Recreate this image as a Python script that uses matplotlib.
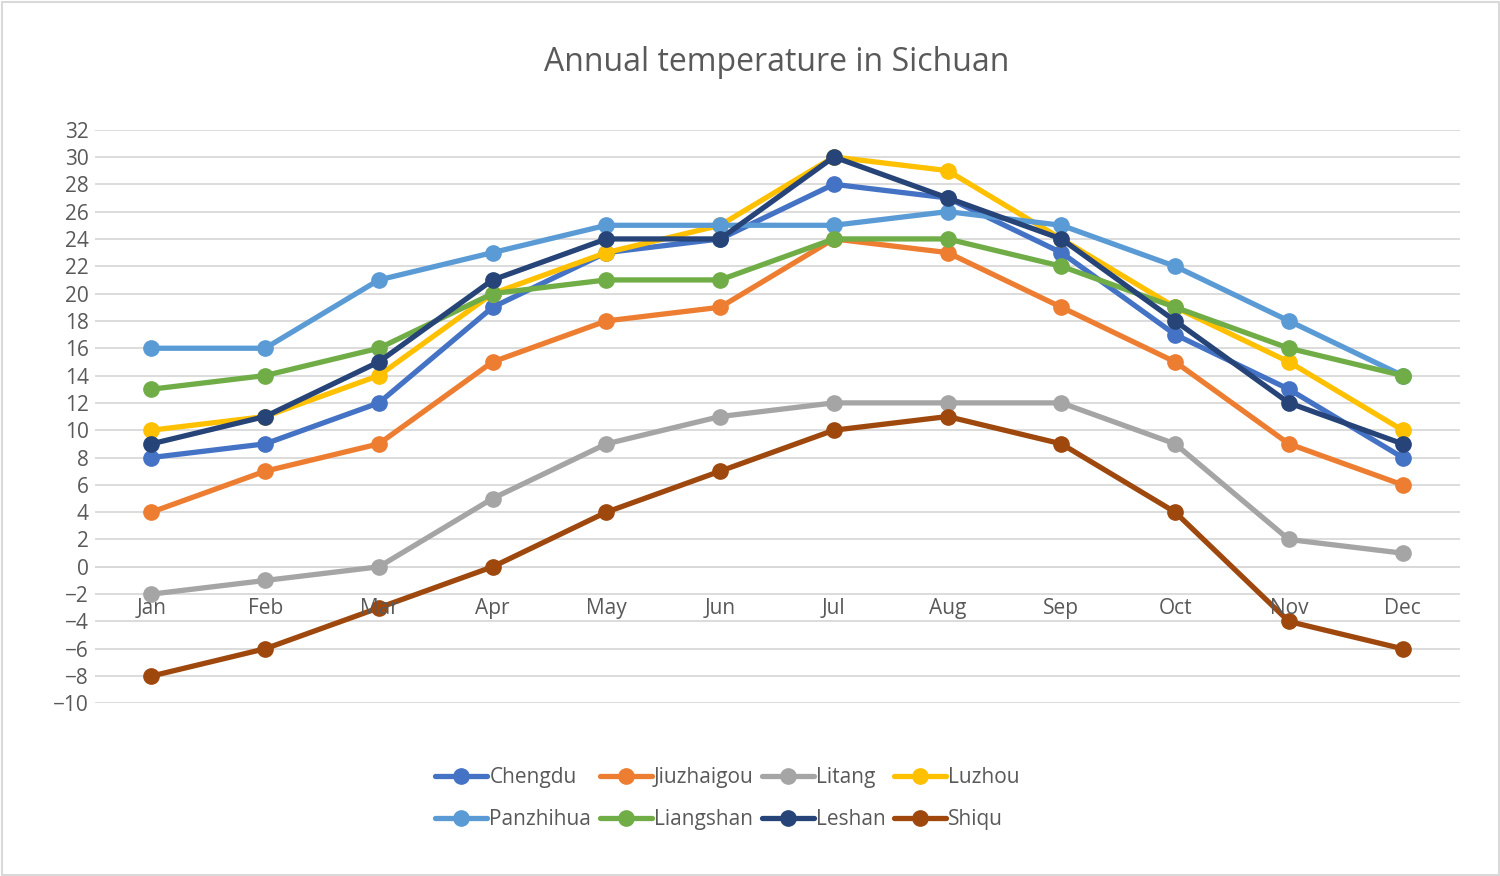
import matplotlib.pyplot as plt
from matplotlib.patches import Rectangle

months = ["Jan", "Feb", "Mar", "Apr", "May", "Jun",
          "Jul", "Aug", "Sep", "Oct", "Nov", "Dec"]

chengdu = [8, 9, 12, 19, 23, 24, 28, 27, 23, 17, 13, 8]
jiuzhaigou = [4, 7, 9, 15, 18, 19, 24, 23, 19, 15, 9, 6]
litang = [-2, -1, 0, 5, 9, 11, 12, 12, 12, 9, 2, 1]
luzhou = [10, 11, 14, 20, 23, 25, 30, 29, 24, 19, 15, 10]
panzhihua = [16, 16, 21, 23, 25, 25, 25, 26, 25, 22, 18, 14]
liangshan = [13, 14, 16, 20, 21, 21, 24, 24, 22, 19, 16, 14]
leshan = [9, 11, 15, 21, 24, 24, 30, 27, 24, 18, 12, 9]
shiqu = [-8, -6, -3, 0, 4, 7, 10, 11, 9, 4, -4, -6]

series = [
    ("Chengdu", chengdu, "#4472C4"),
    ("Jiuzhaigou", jiuzhaigou, "#ED7D31"),
    ("Litang", litang, "#A5A5A5"),
    ("Luzhou", luzhou, "#FFC000"),
    ("Panzhihua", panzhihua, "#5B9BD5"),
    ("Liangshan", liangshan, "#70AD47"),
    ("Leshan", leshan, "#264478"),
    ("Shiqu", shiqu, "#9E480E"),
]

plt.rcParams['font.family'] = ['Open Sans', 'DejaVu Sans']

fig = plt.figure(figsize=(15, 8.76), dpi=100)
ax = fig.add_axes([0.063, 0.197, 0.91, 0.655])

x = list(range(len(months)))
handles = {}
for name, vals, color in series:
    line, = ax.plot(x, vals, color=color, lw=3.8, marker='o', ms=11,
                    solid_capstyle='round', label=name)
    handles[name] = line

ax.set_xlim(-0.5, 11.5)
ax.set_ylim(-10, 32)
ax.set_yticks(range(-10, 33, 2))
ax.yaxis.grid(True, color='#D9D9D9', lw=1.3)
ax.set_axisbelow(True)
for s in ax.spines.values():
    s.set_visible(False)
ax.tick_params(axis='y', length=0, labelsize=15, labelcolor='#595959', pad=4)
ax.set_xticks([])
ax.axhline(0, color='#D9D9D9', lw=1.3, zorder=0)
for i, m in enumerate(months):
    ax.annotate(m, (i, 0), xytext=(0, -30), textcoords='offset points',
                ha='center', va='center', fontsize=15, color='#595959')

ax.set_title("Annual temperature in Sichuan", fontsize=23, color='#595959',
             pad=42)

# column-wise fill so rows read like the original
order = ["Chengdu", "Panzhihua", "Jiuzhaigou", "Liangshan",
         "Litang", "Leshan", "Luzhou", "Shiqu"]
leg = fig.legend([handles[n] for n in order], order, ncol=4,
                 loc='center', bbox_to_anchor=(0.485, 0.088), frameon=False,
                 fontsize=15, handlelength=2.5, handletextpad=0.1,
                 columnspacing=0.4, labelspacing=1.0)
for t in leg.get_texts():
    t.set_color('#595959')

fig.patches.append(Rectangle((0.001, 0.001), 0.998, 0.997,
                             transform=fig.transFigure, fill=False,
                             edgecolor='#D9D9D9', lw=1.5))

fig.savefig("out.png", dpi=100)
